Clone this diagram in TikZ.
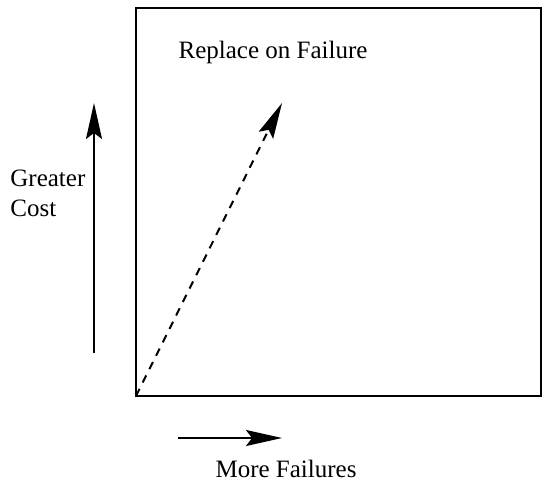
\documentclass[tikz,border=0pt]{standalone}
\usepackage{fontspec}
\setmainfont{Liberation Serif}
\usetikzlibrary{arrows.meta,positioning}

\begin{document}
\begin{tikzpicture}[
  x=0.5pt,y=-0.5pt,
  etiqueta/.style={font=\fontsize{12.5}{15}\selectfont,inner sep=0pt,align=left},
  seta/.style={-{Stealth[length=18pt,width=8pt,inset=3pt]},line width=1pt}
]
  \useasboundingbox (0,0) rectangle (550,487);
  % caixa
  \draw[line width=1pt] (136,8) rectangle (541,396);
  \coordinate (origem) at (136,396);
  \coordinate (alvo) at (282,103);
  \draw[seta,dash pattern=on 4pt off 3.5pt] (origem) -- (alvo);
  \node[etiqueta] (repl) at (273,52) {Replace on Failure};

  % eixo vertical
  \coordinate (vbase) at (94,353);
  \coordinate (vtopo) at (94,103);
  \draw[seta] (vbase) -- (vtopo);
  \node[etiqueta,anchor=west] (custo) at (10,193) {Greater\\Cost};

  % eixo horizontal
  \coordinate (hini) at (178,438);
  \coordinate (hfim) at (282,438);
  \draw[seta] (hini) -- (hfim);
  \node[etiqueta] (falhas) at (286,469) {More Failures};
\end{tikzpicture}
\end{document}
